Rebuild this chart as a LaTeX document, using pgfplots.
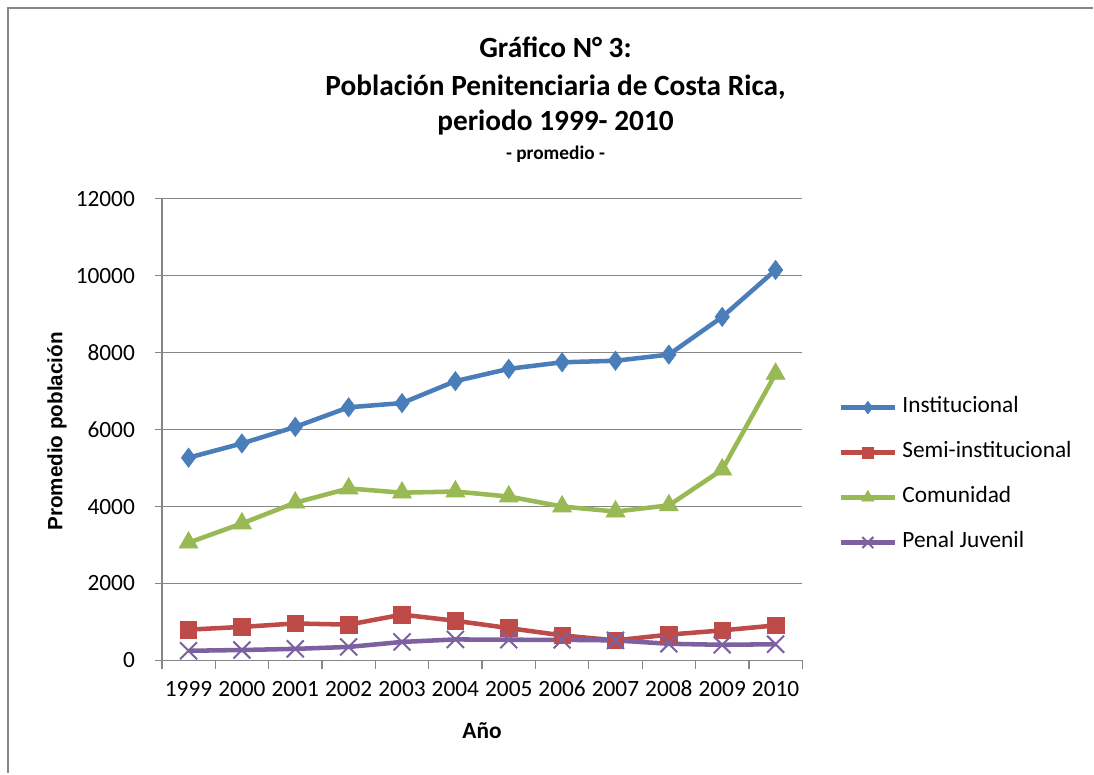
\documentclass[border=0pt]{standalone}
\usepackage{fontspec}
\setmainfont{Carlito}
\newfontfamily\arialf{Liberation Sans}
\usepackage{pgfplots}
\pgfplotsset{compat=1.18}
\definecolor{cblue}{HTML}{4A7EBB}
\definecolor{cred}{HTML}{BE4B48}
\definecolor{cgreen}{HTML}{98B954}
\definecolor{cpurple}{HTML}{7D60A0}
\definecolor{gridgray}{HTML}{868686}
\newcommand{\tickfont}{\fontsize{17.5}{21}\selectfont}
\begin{document}
\begin{tikzpicture}
\path[fill=white] (0,0) rectangle (820.5pt,580.5pt);
\draw[gridgray, line width=1.5pt] (6pt,0pt) -- (6pt,574.5pt) -- (820.5pt,574.5pt);
\node[anchor=base, inner sep=0pt, font=\bfseries\fontsize{22}{26}\selectfont] at (417pt,537pt) {Gráfico N° 3:};
\node[anchor=base, inner sep=0pt, font=\bfseries\fontsize{22}{26}\selectfont] at (417pt,508.5pt) {Población Penitenciaria de Costa Rica,};
\node[anchor=base, inner sep=0pt, font=\bfseries\fontsize{22}{26}\selectfont] at (417pt,482.25pt) {periodo 1999- 2010};
\node[anchor=base, inner sep=0pt, font=\bfseries\fontsize{14.5}{17}\selectfont] at (417pt,460.5pt) {- promedio -};
\begin{axis}[
  at={(121.5pt,84.75pt)}, anchor=south west,
  scale only axis, width=480.75pt, height=346.5pt,
  xmin=-0.5, xmax=11.5, ymin=0, ymax=12000,
  xtick={0,...,11},
  xticklabels={1999,2000,2001,2002,2003,2004,2005,2006,2007,2008,2009,2010},
  minor xtick={-0.5,0.5,...,11.5},
  ytick={0,2000,...,12000},
  scaled y ticks=false,
  axis lines=left, axis line style={-, draw=gridgray, line width=1pt},
  tick align=outside, tick pos=left,
  major tick length=5.25pt, minor tick length=6.75pt,
  tick style={gridgray, line width=1pt},
  major x tick style={draw=none},
  ymajorgrids, grid style={gridgray, line width=1pt},
  /pgf/number format/assume math mode=true,
  /pgf/number format/1000 sep={},
  yticklabel style={font=\tickfont, xshift=-11.5pt},
  xticklabel style={font=\tickfont, text height=11.5pt, text depth=0pt, yshift=-7pt},
  xlabel={Año}, xlabel style={font=\bfseries\tickfont, at={(axis description cs:0.5,-0.1515)}, anchor=center},
  ylabel={Promedio población}, ylabel style={font=\arialf\bfseries\fontsize{15.5}{18}\selectfont, at={(axis description cs:-0.164,0.496)}, anchor=center},
  legend style={at={(axis description cs:1.0562,0.4015)}, anchor=west, draw=none, fill=none, inner sep=0pt, outer sep=0pt, row sep=17.75pt, font=\tickfont, nodes={inner sep=0pt, text height=12pt, text depth=4pt}, /tikz/every odd column/.append style={column sep=3.75pt}},
  legend cell align=left,
  legend image code/.code={\draw[mark repeat=2,mark phase=2,#1,/tikz/every mark/.append style={scale=0.65}] plot coordinates {(0pt,0pt) (20.5pt,0pt) (41pt,0pt)};},
  every axis plot/.append style={line width=3.4pt},
]
\addplot[color=cblue, mark=diamond*, mark size=7.2pt, mark options={fill=cblue, draw=cblue, line width=0.5pt}] coordinates {
(0,5270) (1,5640) (2,6070) (3,6580) (4,6690) (5,7260) (6,7580) (7,7750) (8,7790) (9,7950) (10,8930) (11,10150)};
\addlegendentry{Institucional}
\addplot[color=cred, mark=square*, mark size=6.2pt, mark options={fill=cred, draw=cred, line width=0.5pt}] coordinates {
(0,800) (1,870) (2,960) (3,930) (4,1190) (5,1030) (6,840) (7,650) (8,520) (9,670) (10,780) (11,910)};
\addlegendentry{Semi-institucional}
\addplot[color=cgreen, mark=triangle*, mark size=8.2pt, mark options={fill=cgreen, draw=cgreen, line width=0.5pt}] coordinates {
(0,3060) (1,3560) (2,4100) (3,4470) (4,4360) (5,4390) (6,4260) (7,4000) (8,3870) (9,4030) (10,4960) (11,7450)};
\addlegendentry{Comunidad}
\addplot[color=cpurple, mark=x, mark size=9pt, mark options={draw=cpurple, line width=1.5pt}] coordinates {
(0,250) (1,270) (2,300) (3,350) (4,480) (5,545) (6,537) (7,535) (8,520) (9,432) (10,405) (11,420)};
\addlegendentry{Penal Juvenil}
\end{axis}
\end{tikzpicture}
\end{document}
